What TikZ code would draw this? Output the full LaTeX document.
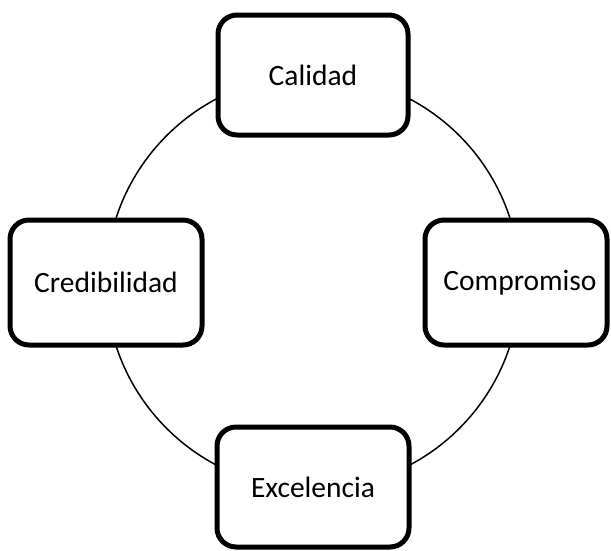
\documentclass[tikz,border=0pt]{standalone}
\usepackage{fontspec}
\setmainfont{Carlito}
\begin{document}
\begin{tikzpicture}[x=1pt,y=-1pt,
  stagebox/.style={draw=black, line width=5pt, fill=white, rounded corners=19pt,
    inner sep=0pt, align=center, font=\fontsize{29.5}{34}\selectfont},
  ring/.style={draw=black, line width=1.5pt}]
\useasboundingbox (0,0) rectangle (611,550);
\coordinate (centre) at (313,282);
\draw[ring] (centre) circle (207pt);
\node[stagebox, minimum width=190pt, minimum height=120pt] (calidad) at (313,75) {Calidad};
\node[stagebox, minimum width=192pt, minimum height=125pt] (credibilidad) at (106,282.5) {Credibilidad};
\node[stagebox, minimum width=182pt, minimum height=125pt] (compromiso) at (516,282.5) {\hspace*{8pt}Compromiso};
\node[stagebox, minimum width=192pt, minimum height=120pt] (excelencia) at (313,487) {\raisebox{-4pt}{Excelencia}};
\end{tikzpicture}
\end{document}
